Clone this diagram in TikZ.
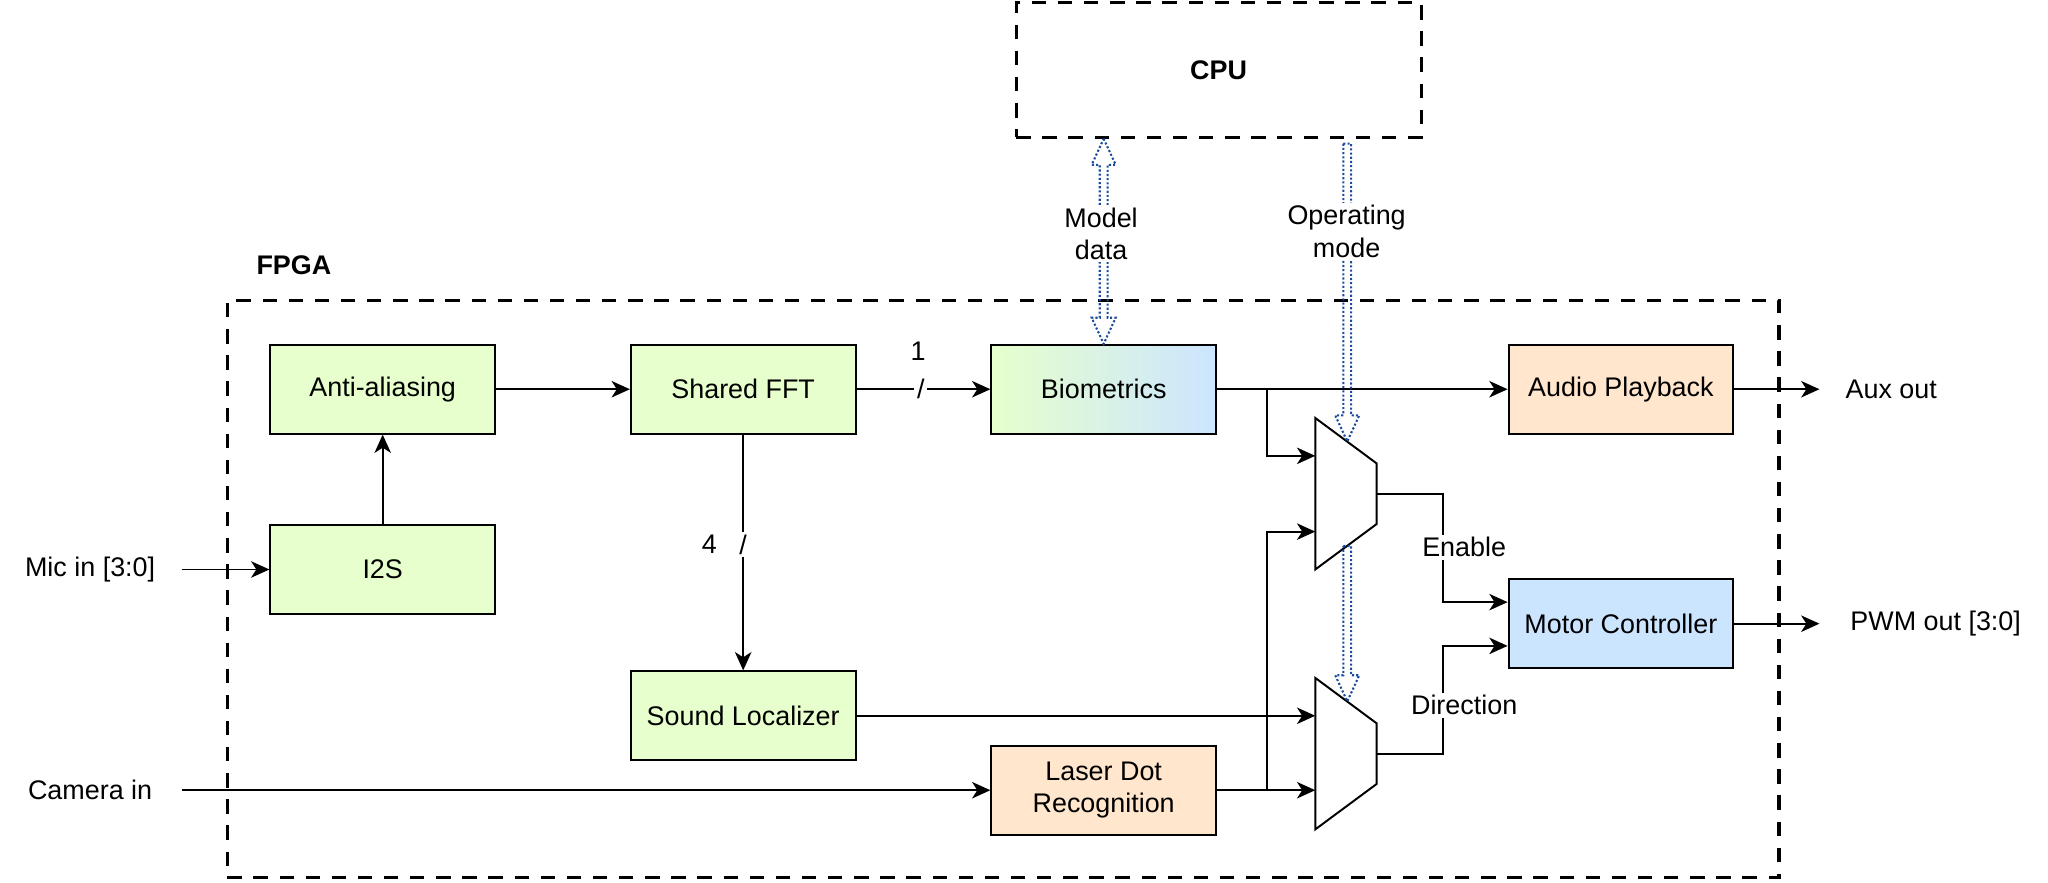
\documentclass[tikz,border=0pt]{standalone}
\usepackage{fontspec}
\setmainfont{Liberation Sans}
\usetikzlibrary{arrows.meta,calc}

\definecolor{blkgreen}{HTML}{E6FFCC}
\definecolor{blkblue}{HTML}{CCE5FF}
\definecolor{blkorange}{HTML}{FFE6CC}
\definecolor{flexblue}{HTML}{1A4C9E}

% hollow dotted arrow pointing down, #1 start, #2 tip
\newcommand{\flexdown}[2]{%
  \draw[flexline] ($(#1)+(-3,0)$) -- ($(#1)+(3,0)$) -- ($(#2)+(3,-20)$) -- ($(#2)+(9.2,-20)$) -- (#2)
    -- ($(#2)+(-9.2,-20)$) -- ($(#2)+(-3,-20)$) -- cycle;}

\begin{document}
\begin{tikzpicture}[x=0.5pt,y=-0.5pt,
    font=\fontsize{10.3pt}{12.4pt}\selectfont,
    block/.style={draw, line width=0.75pt, minimum width=86pt, minimum height=34pt, align=center, inner sep=2pt},
    arr/.style={line width=0.75pt, -{Stealth[length=7pt,width=6.3pt,inset=2pt]}},
    frame/.style={draw, line width=1.2pt, dash pattern=on 5.5pt off 4.5pt},
    flexline/.style={draw=flexblue, line width=0.8pt, dash pattern=on 0.8pt off 0.8pt},
    lbl/.style={fill=white, inner sep=1pt, align=center},
    mux/.style={draw, fill=white, line width=0.75pt}]

    \useasboundingbox (0,0) rectangle (1568,675.3);

    % Dashed outlines
    \node[frame, minimum width=155pt, minimum height=51.5pt] (cpu) at (933,53.5) {\bfseries CPU};
    \node[frame, minimum width=594pt, minimum height=221pt] (fpga) at (768,451) {};
    \node (fpgalbl) at (225,203) {\bfseries FPGA};

    % Draw the blocks
    \node[block, fill=blkgreen] (anti) at (293,298) {Anti-aliasing};
    \node[block, fill=blkgreen] (i2s) at (293,436) {I2S};
    \node[block, fill=blkgreen] (fft) at (569,298) {Shared FFT};
    \node[block, left color=blkgreen, right color=blkblue] (bio) at (845,298) {Biometrics};
    \node[block, fill=blkorange] (audio) at (1241,298) {Audio Playback};
    \node[block, fill=blkblue] (motor) at (1241,477.5) {Motor Controller};
    \node[block, fill=blkgreen] (sound) at (569,548) {Sound Localizer};
    \node[block, fill=blkorange] (laser) at (845,605) {Laser Dot\\Recognition};

    % Draw the multiplexers
    \draw[mux] (1007,320) -- (1054,354.8) -- (1054,401.2) -- (1007,436) -- cycle;
    \coordinate (m1in1) at (1007,349);
    \coordinate (m1in2) at (1007,407);
    \coordinate (m1out) at (1054,378);
    \coordinate (m1top) at (1031.5,338);
    \coordinate (m1bot) at (1031.5,418);
    \draw[mux] (1007,519) -- (1054,553.8) -- (1054,600.2) -- (1007,635) -- cycle;
    \coordinate (m2in1) at (1007,548);
    \coordinate (m2in2) at (1007,605);
    \coordinate (m2out) at (1054,577);
    \coordinate (m2top) at (1031.5,537);

    % Inputs and outputs
    \node (micin) at (69,436) {Mic in [3:0]};
    \node (camin) at (69,605) {Camera in};
    \node (auxout) at (1448,298) {Aux out};
    \node (pwmout) at (1482,477.5) {PWM out [3:0]};
    \coordinate (micsrc) at (139,436);
    \coordinate (camsrc) at (139,605);
    \coordinate (auxdst) at (1393,298);
    \coordinate (pwmdst) at (1393,477.5);

    % Draw the connections
    \draw[arr] (micsrc) -- (i2s.west);
    \draw[arr] (i2s.north) -- (anti.south);
    \draw[arr] (anti.east) -- (fft.west);
    \draw[arr] (fft.east) -- node[lbl, pos=0.48] (bus1) {/} (bio.west);
    \node (n1) at (703,269) {1};
    \draw[arr] (fft.south) -- node[lbl, pos=0.467] (bus4) {/} (sound.north);
    \node (n4) at (543,417) {4};
    \draw[arr] (bio.east) -- (audio.west);
    \draw[arr] ($(bio.east)+(38,0)$) |- (m1in1);
    \draw[arr] (camsrc) -- (laser.west);
    \draw[arr] (laser.east) -- (m2in2);
    \draw[arr] ($(laser.east)+(38,0)$) |- (m1in2);
    \draw[arr] (sound.east) -- (m2in1);
    \draw[arr] (m1out) -- ++(51,0) |- ($(motor.west)+(0,-16.5)$);
    \draw[arr] (m2out) -- ++(51,0) |- ($(motor.west)+(0,17)$);
    \node[lbl] (enlbl) at (1121,419) {Enable};
    \node[lbl] (dirlbl) at (1121,540) {Direction};
    \draw[arr] (audio.east) -- (auxdst);
    \draw[arr] (motor.east) -- (pwmdst);

    % CPU links
    \coordinate (mdtop) at (bio.north |- cpu.south);
    \draw[flexline] (mdtop) -- ($(mdtop)+(9.2,20)$) -- ($(mdtop)+(3,20)$) -- ($(bio.north)+(3,-20)$)
      -- ($(bio.north)+(9.2,-20)$) -- (bio.north) -- ($(bio.north)+(-9.2,-20)$) -- ($(bio.north)+(-3,-20)$)
      -- ($(mdtop)+(-3,20)$) -- ($(mdtop)+(-9.2,20)$) -- cycle;
    \node[lbl] (mdlbl) at (843,179) {Model\\data};
    \coordinate (opstart) at (1031.5,110);
    \flexdown{opstart}{m1top}
    \flexdown{m1bot}{m2top}
    \node[lbl] (oplbl) at (1031,177) {Operating\\mode};
\end{tikzpicture}
\end{document}
